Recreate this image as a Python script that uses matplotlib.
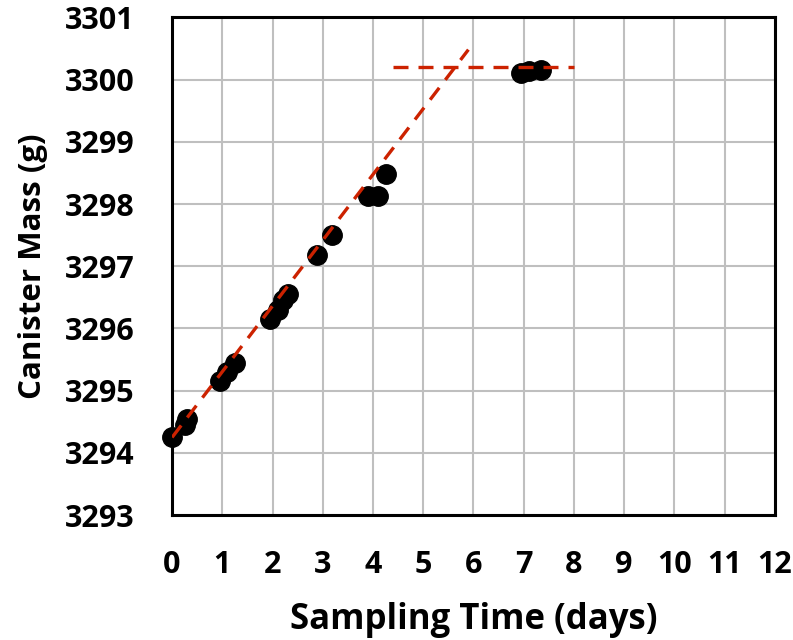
import matplotlib
matplotlib.use("Agg")
import matplotlib.pyplot as plt

# measured canister mass
time_days = [0.0, 0.25, 0.3, 0.95, 1.1, 1.25, 1.95, 2.1, 2.2, 2.3,
             2.88, 3.18, 3.9, 4.1, 4.25, 6.95, 7.1, 7.35]
mass_g = [3294.25, 3294.45, 3294.55, 3295.15, 3295.3, 3295.45,
          3296.15, 3296.3, 3296.45, 3296.55, 3297.18, 3297.5,
          3298.13, 3298.13, 3298.49, 3300.1, 3300.13, 3300.15]

# trend lines (uptake phase and plateau)
rise_x = [0.0, 5.9]
rise_y = [3294.25, 3300.48]
flat_x = [4.4, 8.0]
flat_y = [3300.2, 3300.2]

xticks = list(range(0, 13))
yticks = list(range(3293, 3302))

plt.rcParams['font.family'] = ['Open Sans', 'DejaVu Sans']
plt.rcParams['font.weight'] = 'bold'

fig = plt.figure(figsize=(7.93, 6.4), dpi=100)
ax = fig.add_axes([0.217, 0.195, 0.76, 0.778])

ax.plot(time_days, mass_g, 'o', color='black', markersize=14, zorder=3,
        clip_on=False)
ax.plot(rise_x, rise_y, color='#CC2200', lw=2.4, dashes=(4.5, 3), zorder=4)
ax.plot(flat_x, flat_y, color='#CC2200', lw=2.4, dashes=(4.5, 3), zorder=4)

ax.set_xlim(0, 12)
ax.set_ylim(3293, 3301)
ax.set_xticks(xticks)
ax.set_yticks(yticks)
ax.set_xticklabels([str(t) for t in xticks])
ax.set_yticklabels([str(t) for t in yticks])
ax.tick_params(length=0, labelsize=22)
ax.tick_params(axis='x', pad=25)
ax.tick_params(axis='y', pad=27)
ax.grid(True, color='#BFBFBF', lw=1.5)
ax.set_axisbelow(True)
for s in ax.spines.values():
    s.set_linewidth(2.2)
    s.set_color('black')

ax.set_xlabel('Sampling Time (days)', fontsize=25, fontweight='bold', labelpad=16)
ax.set_ylabel('Canister Mass (g)', fontsize=22.5, fontweight='bold', labelpad=12)

fig.savefig('out.png', dpi=100)
